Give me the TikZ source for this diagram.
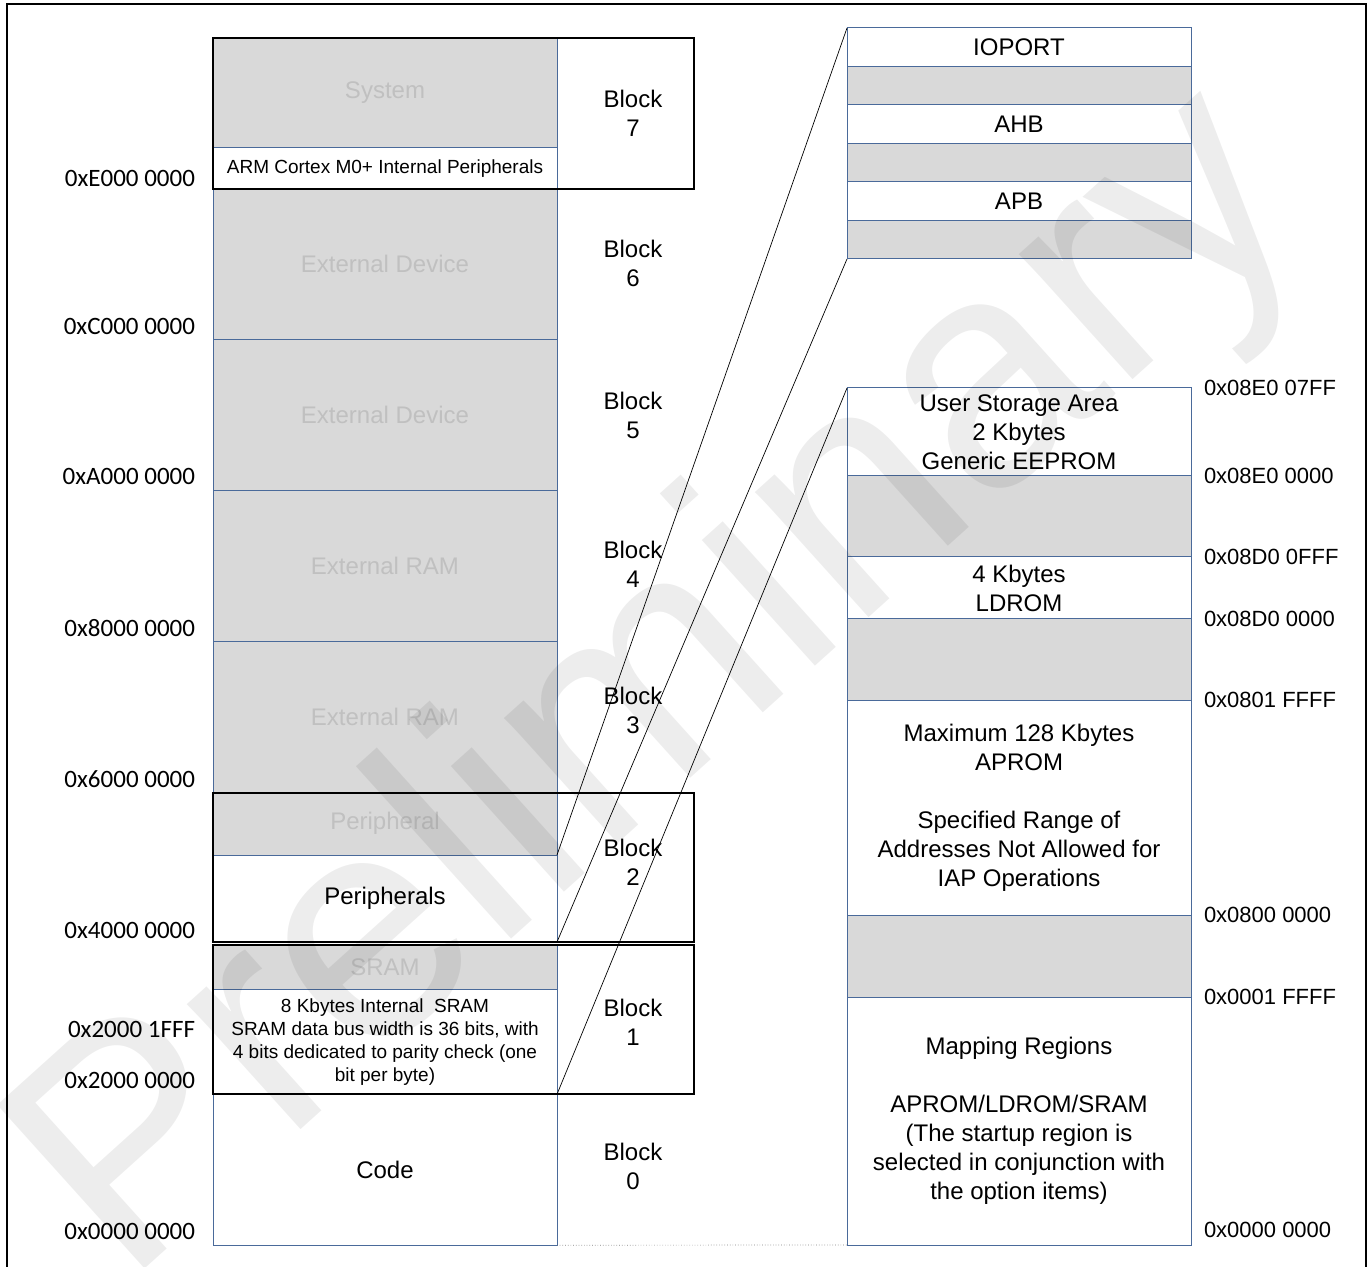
\documentclass[tikz,border=0pt]{standalone}
\usepackage{fontspec}
\setmainfont{Liberation Sans}
\newfontfamily\addrfont{Carlito}
\usetikzlibrary{positioning, calc}
\definecolor{mapBlue}{HTML}{4A6A9A}
\definecolor{mapFill}{HTML}{D9D9D9}
\definecolor{mapText}{HTML}{C0C0C0}

\begin{document}
\begin{tikzpicture}[
  x=0.5pt, y=-0.5pt,
  every node/.style={inner sep=0pt, outer sep=0pt},
  region/.style={
    draw=mapBlue, line width=0.5pt, fill=white,
    anchor=north west, minimum width=172pt, align=center,
    font=\fontsize{12}{14.5}\selectfont
  },
  spare/.style={region, fill=mapFill, text=mapText},
  small/.style={font=\fontsize{9.5}{11.5}\selectfont},
  blockbox/.style={draw=black, line width=1pt},
  blocklabel/.style={align=center, font=\fontsize{12}{14.5}\selectfont},
  addrleft/.style={anchor=base east, font=\addrfont\fontsize{12.5}{15}\selectfont},
  addrright/.style={font=\fontsize{11}{13}\selectfont},
  zoomline/.style={line width=0.35pt},
  watermark/.style={
    rotate=42, text=black, text opacity=0.07,
    font=\fontsize{160}{160}\selectfont
  },
]
\useasboundingbox (0,0) rectangle (1372,1267);

% Frame
\draw[line width=1pt] (7,1267) -- (7,4) -- (1366,4) -- (1366,1267);

% Memory map, left column
\node[spare, minimum height=55pt] (sys) at (213,38) {System};
\node[region, small, minimum height=20.45pt, below=0pt of sys] (arm) {ARM Cortex M0+ Internal Peripherals};
\node[spare, minimum height=75.45pt, below=0pt of arm] (ext6) {External Device};
\node[spare, minimum height=75.45pt, below=0pt of ext6] (ext5) {External Device};
\node[spare, minimum height=75.45pt, below=0pt of ext5] (ram4) {External RAM};
\node[spare, minimum height=75.45pt, below=0pt of ram4] (ram3) {External RAM};
\node[spare, minimum height=31.25pt, below=0pt of ram3] (perg) {Peripheral};
\node[region, minimum height=43.5pt, below=0pt of perg] (peri) {Peripherals};
\node[spare, minimum height=22pt, below=1.5pt of peri] (sramg) {SRAM};
\node[region, small, minimum height=52.65pt, below=0pt of sramg] (sram) {8 Kbytes Internal~ SRAM\\SRAM data bus width is 36 bits, with\\4 bits dedicated to parity check (one\\bit per byte)};
\node[region, minimum height=75.45pt, below=0pt of sram] (code) {Code};

% Block column
\coordinate (bedge) at (694,0);
\draw[blockbox] (sys.north west) rectangle (arm.south east -| bedge);
\draw[blockbox] (perg.north west) rectangle (peri.south east -| bedge);
\draw[blockbox] (sramg.north west) rectangle (sram.south east -| bedge);
\foreach \n/\y in {7/113.5, 6/263.5, 5/415, 4/564.5, 3/710.5, 2/862.5, 1/1022.5, 0/1166.5}
  \node[blocklabel] (b\n) at (633,\y) {Block\\\n};

% Addresses, left
\foreach \n/\y/\t in {e/187/0xE000 0000, c/335/0xC000 0000, a/485/0xA000 0000,
  h/637/0x8000 0000, s/787/0x6000 0000, f/938/0x4000 0000,
  t/1037/0x2000 1FFF, w/1088/0x2000 0000, z/1239/0x0000 0000}
  \node[addrleft] (l\n) at (195,\y) {\t};

% Peripheral bus detail
\node[region, minimum height=19.25pt] (io1) at (847,28) {IOPORT};
\node[spare, minimum height=19.25pt, below=0pt of io1] (io2) {};
\node[region, minimum height=19.25pt, below=0pt of io2] (io3) {AHB};
\node[spare, minimum height=19.25pt, below=0pt of io3] (io4) {};
\node[region, minimum height=19.25pt, below=0pt of io4] (io5) {APB};
\node[spare, minimum height=19.25pt, below=0pt of io5] (io6) {};

% Flash detail
\node[region, minimum height=44pt] (fl1) at (847,388) {User Storage Area\\2 Kbytes\\Generic EEPROM};
\node[spare, minimum height=40.5pt, below=0pt of fl1] (fl2) {};
\node[region, minimum height=31pt, below=0pt of fl2] (fl3) {4 Kbytes\\LDROM};
\node[spare, minimum height=40.5pt, below=0pt of fl3] (fl4) {};
\node[region, minimum height=107.5pt, below=0pt of fl4] (fl5) {Maximum 128 Kbytes\\APROM\\[14.5pt]Specified Range of\\Addresses Not Allowed for\\IAP Operations};
\node[spare, minimum height=41pt, below=0pt of fl5] (fl6) {};
\node[region, minimum height=124pt, below=0pt of fl6] (fl7) {Mapping Regions\\[14.5pt]APROM/LDROM/SRAM\\(The startup region is\\selected in conjunction with\\the option items)};

% Addresses, right
\node[addrright, right=6.5pt of fl1.north east] (r1) {0x08E0 07FF};
\node[addrright, right=6.5pt of fl2.north east] (r2) {0x08E0 0000};
\node[addrright, right=6.5pt of fl3.north east] (r3) {0x08D0 0FFF};
\node[addrright, right=6.5pt of fl4.north east] (r4) {0x08D0 0000};
\node[addrright, right=6.5pt of fl5.north east] (r5) {0x0801 FFFF};
\node[addrright, right=6.5pt of fl6.north east] (r6) {0x0800 0000};
\node[addrright, right=6.5pt of fl7.north east] (r7) {0x0001 FFFF};
\node[addrright, right=6.5pt of fl7.south east, yshift=7.5pt] (r8) {0x0000 0000};

% Zoom lines
\draw[zoomline] (perg.south east) -- (io1.north west);
\draw[zoomline] (peri.south east) -- (io6.south west);
\draw[zoomline] (sram.south east) -- (fl1.north west);
\draw[zoomline, densely dotted, gray] (code.south east) -- (fl7.south west);

% Watermark
\node[watermark] (wm) at (665,690) {Preliminary};
\end{tikzpicture}
\end{document}
